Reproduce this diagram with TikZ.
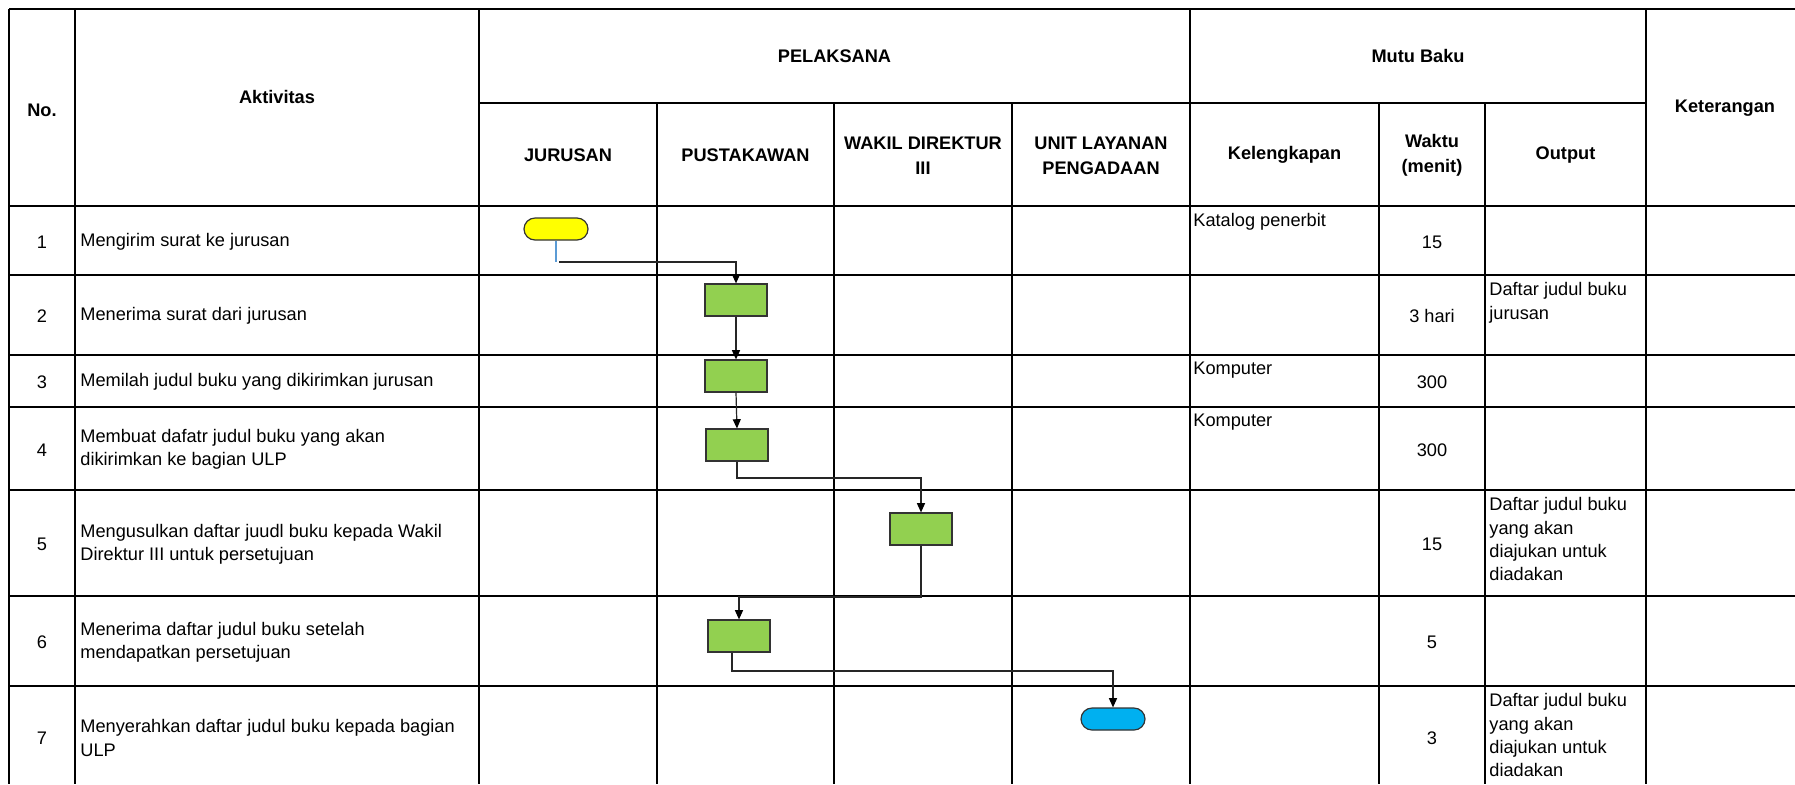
\documentclass[tikz,border=0pt]{standalone}
\usepackage{fontspec}
\setmainfont{Liberation Sans}
\usetikzlibrary{arrows.meta}
\definecolor{procgreen}{RGB}{146,208,80}
\definecolor{termyellow}{RGB}{255,255,0}
\definecolor{termblue}{RGB}{0,176,240}
\definecolor{linkblue}{RGB}{91,155,213}
\begin{document}
\begin{tikzpicture}[x=0.5pt,y=-0.5pt,
  grid/.style={line width=1pt,black},
  hdr/.style={font=\fontsize{9.1}{12.4}\selectfont\bfseries,align=center,inner sep=0pt},
  num/.style={font=\fontsize{9.1}{11.6}\selectfont,inner sep=0pt},
  txt/.style={font=\fontsize{9.1}{11.6}\selectfont,align=left,inner sep=0pt,anchor=west},
  toptxt/.style={font=\fontsize{9.1}{11.7}\selectfont,align=left,inner sep=0pt,anchor=north west},
  proc/.style={draw=black!80,line width=0.6pt,fill=procgreen,minimum width=31pt,minimum height=16pt,inner sep=0pt},
  term/.style={draw=black!80,line width=0.6pt,minimum width=32pt,minimum height=11pt,rounded corners=5.5pt,inner sep=0pt},
  link/.style={draw=black!85,line width=0.6pt},
  flow/.style={link,-{Triangle[length=4.6pt,width=4pt,color=black]}}
]
\useasboundingbox (0,0) rectangle (1795,784);
\fill[white] (0,0) rectangle (1795,784);

% table grid
\draw[grid] (9,9) -- (1795,9);
\draw[grid] (479,103) -- (1646,103);
\foreach \y in {206,275,355,407,490,596,686} \draw[grid] (9,\y) -- (1795,\y);
\foreach \x in {9,75,479,1190,1646} \draw[grid] (\x,9) -- (\x,784);
\foreach \x in {657,834,1012,1379,1485} \draw[grid] (\x,103) -- (\x,784);

% headers
\node[hdr] (hno) at (42,110) {No.};
\node[hdr] (hakt) at (277,97) {Aktivitas};
\node[hdr] (hpel) at (834.5,56) {PELAKSANA};
\node[hdr] (hmutu) at (1418,56) {Mutu Baku};
\node[hdr] (hket) at (1725,108) {Keterangan};
\node[hdr] (hjur) at (568,155) {JURUSAN};
\node[hdr] (hpus) at (745.5,155) {PUSTAKAWAN};
\node[hdr] (hwak) at (923,155.5) {WAKIL DIREKTUR\\III};
\node[hdr] (hulp) at (1101,155.5) {UNIT LAYANAN\\PENGADAAN};
\node[hdr] (hkel) at (1284.5,155) {Kelengkapan};
\node[hdr] (hwak2) at (1432,155.5) {Waktu\\(menit)};
\node[hdr] (hout) at (1565.5,155) {Output};

% numbers
\node[num] (n1) at (42,242) {1};
\node[num] (n2) at (42,316) {2};
\node[num] (n3) at (42,382) {3};
\node[num] (n4) at (42,450) {4};
\node[num] (n5) at (42,544) {5};
\node[num] (n6) at (42,642) {6};
\node[num] (n7) at (42,738) {7};

% activities
\node[txt] (a1) at (80,242) {Mengirim surat ke jurusan};
\node[txt] (a2) at (80,316) {Menerima surat dari jurusan};
\node[txt] (a3) at (80,382) {Memilah judul buku yang dikirimkan jurusan};
\node[txt] (a4) at (80,449) {Membuat dafatr judul buku yang akan\\dikirimkan ke bagian ULP};
\node[txt] (a5) at (80,544) {Mengusulkan daftar juudl buku kepada Wakil\\Direktur III untuk persetujuan};
\node[txt] (a6) at (80,642) {Menerima daftar judul buku setelah\\mendapatkan persetujuan};
\node[txt] (a7) at (80,738) {Menyerahkan daftar judul buku kepada bagian\\ULP};

% kelengkapan
\node[toptxt] (k1) at (1193,213) {Katalog penerbit};
\node[toptxt] (k3) at (1193,362) {Komputer};
\node[toptxt] (k4) at (1193,414) {Komputer};

% waktu
\node[num] (w1) at (1432,242) {15};
\node[num] (w2) at (1432,316) {3 hari};
\node[num] (w3) at (1432,382) {300};
\node[num] (w4) at (1432,450) {300};
\node[num] (w5) at (1432,544) {15};
\node[num] (w6) at (1432,642) {5};
\node[num] (w7) at (1432,738) {3};

% output
\node[toptxt] (o2) at (1489,282) {Daftar judul buku\\jurusan};
\node[toptxt] (o5) at (1489,497) {Daftar judul buku\\yang akan\\diajukan untuk\\diadakan};
\node[toptxt] (o7) at (1489,693) {Daftar judul buku\\yang akan\\diajukan untuk\\diadakan};

% flow shapes
\node[term,fill=termyellow] (s) at (556,229) {};
\node[proc] (p2) at (736,300) {};
\node[proc] (p3) at (736,376) {};
\node[proc] (p4) at (737,445) {};
\node[proc] (p5) at (921,529) {};
\node[proc] (p6) at (739,636) {};
\node[term,fill=termblue] (e) at (1113,719) {};

% connectors
\coordinate (c1) at (559,262);
\coordinate (c3) at (921,478);
\coordinate (c4) at (739,597);
\coordinate (c5) at (732,671);
\draw[link,draw=linkblue] (s.south) -- (s.south |- c1);
\draw[flow] (c1) -| (p2.north);
\draw[flow] (p2.south) -- (p3.north);
\draw[flow] (p3.south) -- (p4.north);
\draw[flow] (p4.south) |- (c3) -- (p5.north);
\draw[flow] (p5.south) |- (c4) -- (p6.north);
\draw[flow] (p6.south -| c5) -- (c5) -| (e.north);
\end{tikzpicture}
\end{document}
